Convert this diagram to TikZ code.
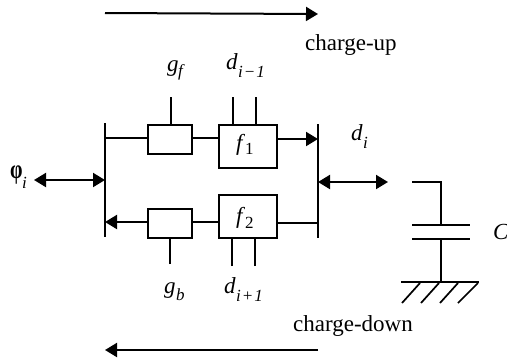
\documentclass[tikz,border=0pt]{standalone}
\usepackage{graphicx}
\usepackage{fontspec}
\setmainfont{Liberation Serif}
\usetikzlibrary{arrows.meta}
\tikzset{
  wire/.style={line width=2pt,black,line cap=butt},
  thin wire/.style={line width=1.7pt,black},
  block/.style={draw=black,line width=2pt,fill=white,minimum width=0pt,inner sep=0pt,anchor=north west},
  darrow/.style={wire,{Triangle[length=12pt,width=14pt]}-{Triangle[length=12pt,width=14pt]}},
  rarrow/.style={wire,-{Triangle[length=12pt,width=14pt]}},
  lbl/.style={font=\fontsize{23}{26}\selectfont,inner sep=0pt},
  ital/.style={font=\fontsize{23}{26}\selectfont\itshape,inner sep=0pt},
  sub/.style={font=\fontsize{17}{20}\selectfont\itshape,inner sep=0pt}
}
\begin{document}
\begin{tikzpicture}[x=1pt,y=-1pt]
\useasboundingbox (0,0) rectangle (507,360);
% long direction arrows
\coordinate (upS) at (105,13); \coordinate (upE) at (318,14);
\draw[rarrow] (upS) -- (upE);
\coordinate (dnS) at (318,350); \coordinate (dnE) at (105,350);
\draw[rarrow] (dnS) -- (dnE);
% buses
\coordinate (LT) at (105,123); \coordinate (LB) at (105,237);
\coordinate (RT) at (318,124); \coordinate (RB) at (318,238);
\draw[wire] (LT) -- (LB);
\draw[wire] (RT) -- (RB);
% blocks
\node[block,minimum width=44pt,minimum height=29pt] (gf) at (147,124) {};
\node[block,minimum width=58pt,minimum height=43pt] (f1) at (218,124) {};
\node[block,minimum width=44pt,minimum height=29pt] (gb) at (147,208) {};
\node[block,minimum width=58pt,minimum height=43pt] (f2) at (218,194) {};
\node[ital,anchor=base west] at (236,150) {f};
\node[lbl,anchor=base west,font=\fontsize{17}{20}\selectfont] at (245,154) {1};
\node[ital,anchor=base west] at (236,223) {f};
\node[lbl,anchor=base west,font=\fontsize{17}{20}\selectfont] at (245,228) {2};
% horizontal connectors
\draw[wire] (105,138) -- (gf.west |- 0,138);
\draw[wire] (gf.east |- 0,138) -- (f1.west |- 0,138);
\draw[rarrow] (f1.east |- 0,139) -- (318,139);
\draw[rarrow] (gb.west |- 0,222) -- (105,222);
\draw[wire] (gb.east |- 0,222) -- (f2.west |- 0,222);
\draw[wire] (f2.east |- 0,223) -- (318,223);
% stubs
\coordinate (s1) at (171,97); \coordinate (s2) at (233,97); \coordinate (s3) at (256,97);
\coordinate (s4) at (170,264); \coordinate (s5) at (232,266); \coordinate (s6) at (255,266);
\draw[wire] (s1) -- (s1 |- gf.north);
\draw[wire] (s2) -- (s2 |- f1.north);
\draw[wire] (s3) -- (s3 |- f1.north);
\draw[wire] (s4) -- (s4 |- gb.south);
\draw[wire] (s5) -- (s5 |- f2.south);
\draw[wire] (s6) -- (s6 |- f2.south);
% double arrows
\coordinate (phiE) at (34,180);
\draw[darrow] (phiE) -- (105,180);
\coordinate (diE) at (388,182);
\draw[darrow] (318,182) -- (diE);
% capacitor
\coordinate (c0) at (412,182); \coordinate (c1) at (441,182); \coordinate (c2) at (441,225);
\coordinate (c3) at (441,239); \coordinate (c4) at (441,282);
\draw[thin wire] (c0) -- (c1) -- (c2);
\draw[thin wire] (412,225) -- (470,225);
\draw[thin wire] (412,239) -- (470,239);
\draw[thin wire] (c3) -- (c4);
\draw[thin wire] (401,282) -- (479,282);
\draw[thin wire] (420,283) -- (402,303);
\draw[thin wire] (439,283) -- (421,303);
\draw[thin wire] (458,283) -- (440,303);
\draw[thin wire] (478,283) -- (458,303);
% labels
\node[lbl,anchor=base west] (cu) at (305,50) {charge-up};
\node[lbl,anchor=base west] (cd) at (293,331) {charge-down};
\node[ital,anchor=base west] (gfl) at (167,71) {g};
\node[sub,anchor=base west] at (178,76) {f};
\node[ital,anchor=base west] (dim) at (226,69) {d};
\node[sub,anchor=base west] at (238,77) {i\kern1pt−\kern1pt 1};
\node[ital,anchor=base west] (gbl) at (164,293) {g};
\node[sub,anchor=base west] at (176,300) {b};
\node[ital,anchor=base west] (dip) at (224,293) {d};
\node[sub,anchor=base west] at (236,301) {i\kern1pt+\kern1pt 1};
\node[ital,anchor=base west] (di) at (351,140) {d};
\node[sub,anchor=base west] at (363,148) {i};
\node[ital,anchor=base west] (cl) at (493,239) {C};
\node[font=\fontsize{20}{22}\selectfont\bfseries,inner sep=0pt,anchor=base west] (ph) at (10,178) {\scalebox{1}[1.35]{φ}};
\node[sub,anchor=base west] at (22,188) {i};
\end{tikzpicture}
\end{document}
